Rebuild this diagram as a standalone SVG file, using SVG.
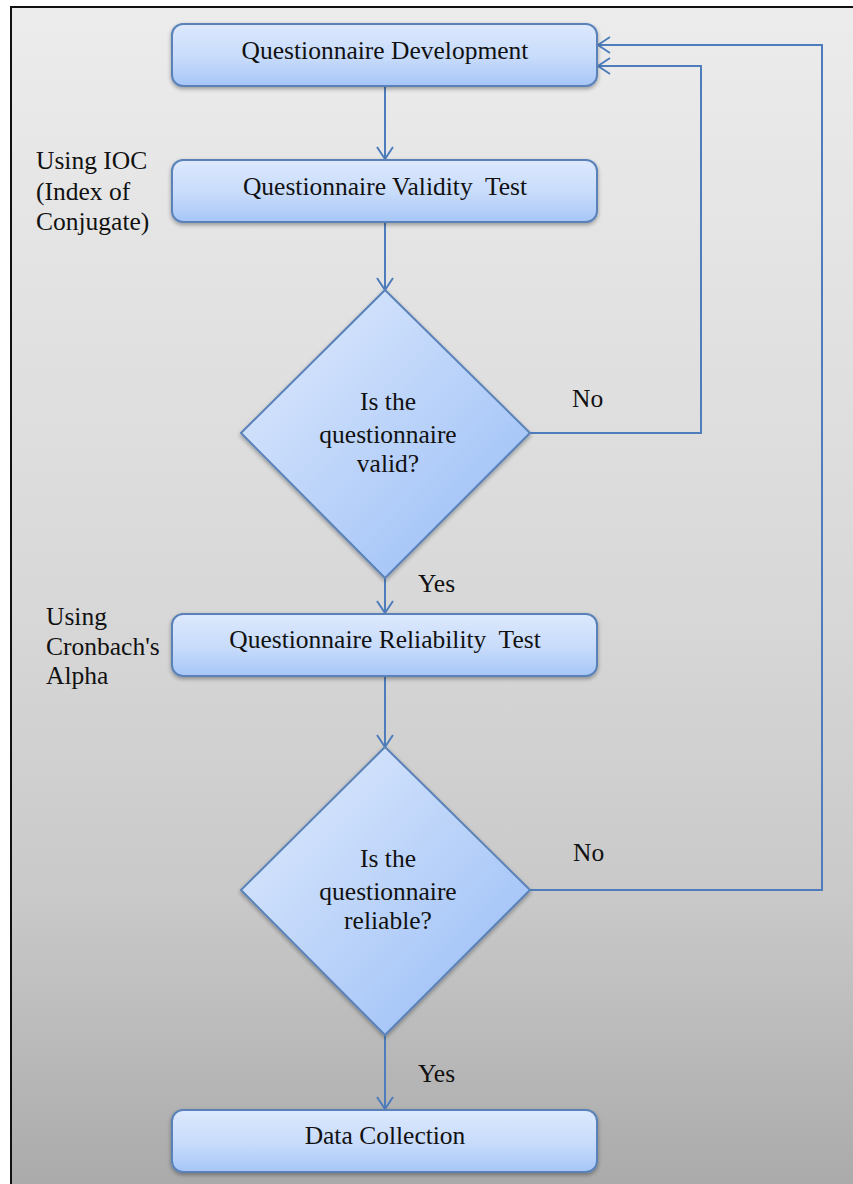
<svg xmlns="http://www.w3.org/2000/svg" width="853" height="1184" viewBox="0 0 853 1184">
  <defs>
    <linearGradient id="bg" x1="0" y1="0" x2="0" y2="1">
      <stop offset="0" stop-color="#ececec"/>
      <stop offset="0.5" stop-color="#d8d8d8"/>
      <stop offset="0.75" stop-color="#c9c9c9"/>
      <stop offset="1" stop-color="#a9a9a9"/>
    </linearGradient>
    <linearGradient id="boxFill" x1="0" y1="0" x2="0" y2="1">
      <stop offset="0" stop-color="#dde9fd"/>
      <stop offset="0.55" stop-color="#c7dbfb"/>
      <stop offset="1" stop-color="#a6c6f7"/>
    </linearGradient>
    <linearGradient id="diaFill" x1="0" y1="0" x2="1" y2="1">
      <stop offset="0" stop-color="#e2ecfd"/>
      <stop offset="1" stop-color="#95bbf6"/>
    </linearGradient>
    <filter id="shadow" x="-10%" y="-10%" width="120%" height="130%">
      <feGaussianBlur in="SourceAlpha" stdDeviation="2"/>
      <feOffset dx="0" dy="2" result="b"/>
      <feComponentTransfer><feFuncA type="linear" slope="0.35"/></feComponentTransfer>
      <feMerge><feMergeNode/><feMergeNode in="SourceGraphic"/></feMerge>
    </filter>
    <marker id="vee" viewBox="0 0 14 18" refX="13" refY="9" markerWidth="14" markerHeight="18" markerUnits="userSpaceOnUse" orient="auto">
      <path d="M1,1 L13,9 L1,17" fill="none" stroke="#4e7dbb" stroke-width="2"/>
    </marker>
  </defs>
  <style>
    .box { fill: url(#boxFill); stroke: #5a82b8; stroke-width: 2; filter: url(#shadow); }
    .dia { fill: url(#diaFill); stroke: #5a82b8; stroke-width: 2; filter: url(#shadow); }
    text { font-family: "Liberation Serif", "Times New Roman", Tinos, "Noto Serif", "DejaVu Serif", FreeSerif, serif; font-size: 25.5px; fill: #111; }
    .mid { text-anchor: middle; }
    .wire { fill: none; stroke: #4e7dbb; stroke-width: 2; }
  </style>

  <!-- page background and frame -->
  <rect x="0" y="0" width="853" height="1184" fill="#ffffff"/>
  <rect x="11" y="7" width="850" height="1190" fill="url(#bg)" stroke="#111" stroke-width="2"/>

  <!-- connectors -->
  <g id="connectors">
    <path class="wire" d="M385,87 L385,159" marker-end="url(#vee)"/>
    <path class="wire" d="M385,223 L385,290" marker-end="url(#vee)"/>
    <path class="wire" d="M385,578 L385,613" marker-end="url(#vee)"/>
    <path class="wire" d="M385,677 L385,747" marker-end="url(#vee)"/>
    <path class="wire" d="M385,1035 L385,1109" marker-end="url(#vee)"/>
    <path class="wire" d="M530,433 L701,433 L701,66 L598,66" marker-end="url(#vee)"/>
    <path class="wire" d="M530,890 L822,890 L822,45 L598,45" marker-end="url(#vee)"/>
    <text x="572" y="407">No</text>
    <text x="573" y="861">No</text>
    <text x="418" y="592">Yes</text>
    <text x="418" y="1082">Yes</text>
  </g>

  <g id="develop">
    <rect class="box" x="172" y="24" width="425" height="62" rx="11"/>
    <text class="mid" x="385" y="59">Questionnaire Development</text>
  </g>

  <g id="validity">
    <rect class="box" x="172" y="160" width="425" height="62" rx="11"/>
    <text class="mid" x="385" y="195" xml:space="preserve">Questionnaire Validity  Test</text>
    <text x="36" y="169">Using IOC</text>
    <text x="36" y="200">(Index of</text>
    <text x="36" y="230">Conjugate)</text>
  </g>

  <g id="valid-check">
    <polygon class="dia" points="385,290 530,433 385,578 241,433"/>
    <text class="mid" x="388" y="410">Is the</text>
    <text class="mid" x="388" y="443">questionnaire</text>
    <text class="mid" x="388" y="472">valid?</text>
  </g>

  <g id="reliability">
    <rect class="box" x="172" y="614" width="425" height="62" rx="11"/>
    <text class="mid" x="385" y="648" xml:space="preserve">Questionnaire Reliability  Test</text>
    <text x="46" y="625">Using</text>
    <text x="46" y="655">Cronbach's</text>
    <text x="46" y="684">Alpha</text>
  </g>

  <g id="reliable-check">
    <polygon class="dia" points="385,747 530,890 385,1035 241,890"/>
    <text class="mid" x="388" y="867">Is the</text>
    <text class="mid" x="388" y="900">questionnaire</text>
    <text class="mid" x="388" y="929">reliable?</text>
  </g>

  <g id="collection">
    <rect class="box" x="172" y="1110" width="425" height="62" rx="11"/>
    <text class="mid" x="385" y="1144">Data Collection</text>
  </g>
</svg>
